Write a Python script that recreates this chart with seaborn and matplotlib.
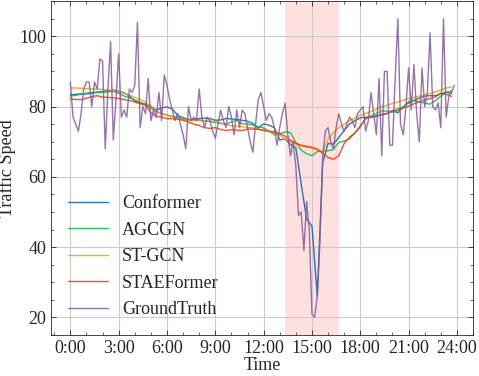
import numpy as np
import seaborn as sns
import matplotlib.pyplot as plt
from matplotlib.ticker import MultipleLocator

# ground truth, one value every 10 minutes (0:00 .. 23:50)
truth = [87, 77, 75, 73, 78, 85, 87, 87, 80, 87, 85, 93.5, 93, 68, 85, 98.5, 70.5, 82, 95, 77, 79, 77, 85, 84,
         86, 104, 74, 80, 78, 88, 76, 79, 77, 84, 76, 89, 86, 82, 79, 76, 78, 75, 72, 68, 80, 76, 77, 76,
         85, 77, 74, 77, 76, 73, 71, 75, 79, 76, 74, 80, 77, 72, 79, 74, 79, 78, 74, 70, 67, 75, 82, 84,
         80, 76, 78, 77, 74, 69, 74, 78, 81, 72, 66, 70, 63, 49, 50, 39, 53, 45, 21, 20, 26, 42, 66, 73,
         74, 70, 68, 74, 78, 75, 73, 75, 77, 76, 74, 78, 79, 80, 73, 76, 84, 78, 72, 88, 66, 90, 90, 69,
         69, 88, 105, 75, 72, 80, 91, 79, 92, 78, 70, 91, 80, 84, 101, 80, 79, 81, 74, 105, 77, 83, 84, 86]

# model predictions, one value every 20 minutes (0:00 .. 23:40)
conformer = [83.3, 83.5, 83.6, 83.6, 83.8, 84.1, 84.3, 84.5, 84.7, 84.4, 83.9, 83.0,
             81.6, 81.0, 80.7, 80.1, 79.0, 79.6, 79.9, 79.3, 77.5, 76.8, 76.3, 76.4,
             76.6, 76.7, 76.6, 76.1, 76.2, 76.6, 76.5, 76.3, 76.1, 75.8, 75.2, 73.8,
             75.1, 74.7, 74.0, 70.5, 70.8, 69.2, 68.3, 58.0, 48.0, 46.0, 26.0, 64.0,
             69.5, 69.3, 71.2, 73.2, 75.0, 76.0, 76.8, 77.0, 76.9, 77.3, 77.8, 78.0,
             78.9, 78.2, 80.0, 81.0, 81.8, 82.4, 83.0, 83.1, 83.1, 83.6, 84.1, 83.7]
agcgn = [83.0, 83.2, 83.5, 83.8, 84.0, 84.0, 84.1, 84.2, 84.3, 83.8, 83.0, 82.5,
         81.9, 81.2, 80.5, 79.5, 78.6, 78.0, 77.6, 77.2, 76.9, 76.4, 76.3, 76.2,
         76.2, 75.9, 75.7, 75.5, 75.2, 75.0, 75.6, 76.1, 75.1, 75.0, 74.8, 74.3,
         73.9, 73.0, 72.0, 72.3, 72.8, 72.6, 69.8, 67.6, 66.6, 66.0, 67.2, 67.3,
         67.4, 67.8, 69.8, 70.2, 70.8, 72.5, 74.2, 76.6, 77.4, 78.0, 78.8, 78.7,
         78.4, 78.9, 79.8, 81.4, 81.7, 81.4, 81.0, 80.7, 81.7, 82.9, 84.1, 84.4]
stgcn = [85.3, 85.3, 85.2, 85.1, 85.0, 85.0, 84.9, 84.7, 84.5, 84.3, 83.8, 83.3,
         82.6, 82.0, 81.3, 80.0, 78.8, 78.0, 77.5, 77.1, 76.8, 76.3, 76.1, 76.0,
         76.0, 75.9, 75.9, 75.8, 75.3, 74.9, 74.5, 74.4, 74.3, 74.1, 73.9, 73.6,
         73.2, 72.9, 72.5, 71.9, 70.8, 70.0, 69.3, 68.9, 68.5, 68.2, 67.7, 67.0,
         70.8, 72.5, 74.0, 75.0, 76.0, 76.8, 77.5, 78.0, 78.6, 79.2, 80.0, 80.4,
         80.9, 81.3, 81.9, 82.3, 82.6, 83.0, 83.3, 83.7, 84.2, 84.7, 85.3, 85.6]
staeformer = [82.2, 82.0, 82.0, 82.4, 82.8, 83.1, 82.7, 82.6, 82.5, 82.3, 82.0, 81.7,
              81.3, 80.8, 80.4, 78.2, 77.2, 77.0, 76.6, 76.5, 76.4, 76.1, 75.6, 75.0,
              74.6, 74.0, 73.8, 74.0, 73.5, 73.2, 73.4, 73.3, 73.2, 73.6, 73.6, 73.5,
              73.3, 73.0, 72.8, 72.3, 71.6, 70.4, 69.6, 69.0, 68.7, 68.4, 67.9, 66.7,
              65.5, 65.0, 66.0, 69.5, 71.3, 72.5, 74.5, 76.6, 77.0, 77.3, 77.6, 78.1,
              78.7, 79.3, 79.6, 80.1, 80.8, 81.4, 81.9, 82.3, 82.8, 83.8, 83.5, 82.9]

models = ["Conformer", "AGCGN", "ST-GCN", "STAEFormer"]
colors = ["#0C5DA5", "#00B945", "#FF9500", "#FF2C00", "#845B97"]
tick_labels = ["0:00", "3:00", "6:00", "9:00", "12:00", "15:00", "18:00", "21:00", "24:00"]

t_truth = np.arange(len(truth)) / 6.0
t_model = np.arange(len(conformer)) / 3.0

sns.set_style("ticks")
plt.rcParams['font.family'] = ['Liberation Serif', 'DejaVu Serif']
plt.rcParams['xtick.direction'] = 'in'
plt.rcParams['ytick.direction'] = 'in'

fig = plt.figure(figsize=(4.79, 3.76), dpi=100)
ax = fig.add_axes([0.1065, 0.109, 0.881, 0.888])

ax.axvspan(13 + 1 / 3, 16 + 2 / 3, color="red", alpha=0.12, lw=0, zorder=0)

for name, vals, c in zip(models, [conformer, agcgn, stgcn, staeformer], colors):
    sns.lineplot(x=t_model, y=vals, color=c, lw=1.0, alpha=0.85, label=name, ax=ax)
sns.lineplot(x=t_truth, y=truth, color=colors[4], lw=1.0, alpha=0.85, label="GroundTruth", ax=ax)

ax.set_xlim(-1.2, 25)
ax.set_ylim(15, 110)
ax.set_xticks(np.arange(0, 25, 3))
ax.set_xticklabels(tick_labels)
ax.xaxis.set_minor_locator(MultipleLocator(1))
ax.yaxis.set_minor_locator(MultipleLocator(5))
ax.tick_params(which='both', top=True, right=True, labelsize=13)
ax.tick_params(which='major', length=3.5, width=0.6)
ax.tick_params(which='minor', length=2, width=0.5)
ax.grid(True, color="#cccccc", lw=0.8)
ax.set_axisbelow(True)
for s in ax.spines.values():
    s.set_linewidth(0.6)

ax.set_xlabel("Time", fontsize=13, labelpad=0)
ax.set_ylabel("Traffic Speed", fontsize=13, labelpad=2)

ax.legend(loc="lower left", frameon=False, fontsize=13, handlelength=2.2,
          handletextpad=0.8, labelspacing=0.53, borderaxespad=0.3, bbox_to_anchor=(0.01, 0.012))

fig.savefig("out.png", dpi=100)
